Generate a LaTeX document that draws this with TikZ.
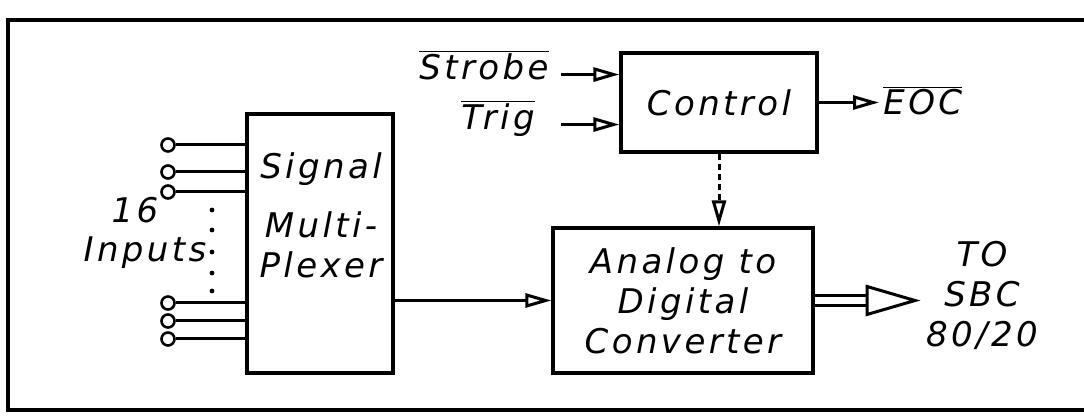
\documentclass[tikz,border=0pt]{standalone}
\usepackage{fontspec}
\setmainfont{DejaVu Sans}[LetterSpace=10]
\usetikzlibrary{arrows.meta,positioning,calc}
\newcommand{\ovl}[1]{$\overline{\mbox{#1}}$}

\begin{document}
\begin{tikzpicture}[
    x=0.5pt,y=-0.5pt,
    blk/.style  = {rectangle,draw,line width=1.6pt,inner sep=0pt},
    txt/.style  = {font=\itshape\fontsize{17}{20}\selectfont,align=center,
                   inner sep=2pt},
    term/.style = {circle,draw,line width=1.3pt,minimum size=6.5pt,inner sep=0pt},
    pt/.style   = {circle,fill,minimum size=2.4pt,inner sep=0pt},
    wire/.style = {line width=1.5pt},
    sig/.style  = {-{Triangle[open,length=13pt,width=7pt]},line width=1.5pt},
    ctl/.style  = {sig,dash pattern=on 3pt off 2pt},
  ]
  \useasboundingbox (0,0) rectangle (1084,417);

  % ── Cadre ───────────────────────────────────────────────────────────────
  \draw[wire,line width=1.6pt] (1090,20) -- (8,20) -- (8,410) -- (1090,410);

  % ── Multiplexeur ────────────────────────────────────────────────────────
  \node[blk,minimum width=73pt,minimum height=129.5pt] (mux) at (320,243.5) {};
  \node[txt] (muxlbl) at (321,215) {Signal\\[9.5pt]Multi-\\Plexer};
  \node[txt] (n16) at (135,210) {16};
  \node[txt] (inputs) at (145,253) {Inputs};
  \foreach \i/\y in {1/145,2/172,3/192,4/303,5/321,6/339} {
    \node[term] (in\i) at (168,\y) {};
    \draw[wire] (in\i) -- (in\i -| mux.west);
  }
  \foreach \i/\y in {1/210,2/230,3/252,4/273,5/291}
    \node[pt] (dot\i) at (212,\y) {};

  % ── Commande ────────────────────────────────────────────────────────────
  \node[blk,txt,minimum width=98pt,minimum height=49.5pt] (ctrl) at (719,102.5) {Control};
  \node[txt,anchor=base east] (strobe) at (553,80) {\ovl{Strobe}};
  \node[txt,anchor=base east] (trig) at (539,130) {\ovl{Trig}};
  \node[txt,anchor=base west] (eoc) at (879,115) {\ovl{EOC}};

  % ── Convertisseur ───────────────────────────────────────────────────────
  \node[blk,txt,minimum width=130pt,minimum height=72.5pt] (adc) at (683,300.5)
    {Analog to\\Digital\\Converter};
  \node[txt] (sbc) at (982,295)
    {\fontsize{17}{21}\selectfont TO\\SBC\\80/20};
  \coordinate (bushead) at (867,300.5);
  \coordinate (busend) at (915,300.5);

  % ── Flux ────────────────────────────────────────────────────────────────
  \draw[sig,shorten <=4pt] (strobe.mid east) -- (strobe.mid east -| ctrl.west);
  \draw[sig,shorten <=4pt] (trig.mid east -| strobe.east) -- (trig.mid east -| ctrl.west);
  \draw[sig] (ctrl.east) -- (ctrl.east -| eoc.west);
  \draw[ctl] (ctrl.south) -- (ctrl.south |- adc.north);
  \draw[sig] (adc.west -| mux.east) -- (adc.west);
  \draw[double,double distance=3.3pt,line width=1.6pt] (adc.east |- bushead) -- (bushead);
  \draw[wire,fill=white] ($(bushead)+(0,-14)$) -- (busend) -- ($(bushead)+(0,14)$) -- cycle;

\end{tikzpicture}
\end{document}
